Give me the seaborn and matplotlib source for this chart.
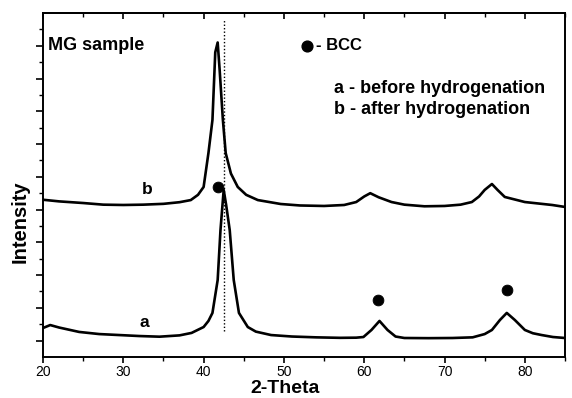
import matplotlib
matplotlib.use("Agg")
import matplotlib.pyplot as plt
from matplotlib.ticker import MultipleLocator, FixedLocator
import seaborn as sns
import pandas as pd

# ---- data ----
theta_a = [20, 20.9, 22, 24.5, 27, 29.5, 32, 34.5, 37, 38.5, 40.0, 40.6, 41.1, 41.75,
           42.1, 42.5, 42.8, 43.25, 43.75, 44.4, 45.5, 46.5, 48.4, 51, 54, 57, 59.0,
           59.9, 60.9, 61.9, 62.9, 63.9, 65, 68, 71, 73.5, 75.0, 75.9, 76.9, 77.75,
           78.75, 80.0, 81.0, 82.1, 83.5, 85]
int_a = [1.77, 1.95, 1.8, 1.53, 1.4, 1.34, 1.28, 1.24, 1.32, 1.47, 1.83, 2.2, 2.69, 4.7,
         7.75, 10.2, 9.3, 7.75, 4.7, 2.69, 1.83, 1.55, 1.34, 1.25, 1.2, 1.17, 1.18,
         1.22, 1.65, 2.2, 1.65, 1.25, 1.16, 1.15, 1.16, 1.2, 1.4, 1.65, 2.26, 2.69,
         2.26, 1.65, 1.45, 1.34, 1.22, 1.16]

theta_b = [20, 22, 25, 27.5, 30, 32.5, 35, 37, 38.4, 39.3, 40.0, 40.6, 41.1, 41.45,
           41.75, 42.0, 42.4, 42.75, 43.4, 44.25, 45.3, 46.75, 49.6, 52, 55, 57.5, 59.0,
           60.0, 60.75, 61.8, 63.4, 65, 67.5, 70, 72, 73.4, 74.3, 75.0, 75.9, 76.6,
           77.5, 80.0, 83.4, 85]
int_b = [9.6, 9.5, 9.4, 9.3, 9.28, 9.3, 9.35, 9.45, 9.58, 9.9, 10.38, 12.45, 14.47,
         18.6, 19.2, 17.5, 14.47, 12.45, 11.2, 10.38, 9.9, 9.58, 9.34, 9.25, 9.22,
         9.28, 9.46, 9.8, 10.0, 9.75, 9.46, 9.3, 9.2, 9.22, 9.3, 9.46, 9.8, 10.2,
         10.56, 10.2, 9.77, 9.46, 9.28, 9.16]

bcc_theta = [41.75, 61.75, 77.75]
bcc_int = [10.4, 3.48, 4.09]

ref_line_theta = 42.6
xtick_vals = [20, 30, 40, 50, 60, 70, 80]

# ---- figure ----
sns.set_theme(style="ticks")
plt.rcParams["font.family"] = ["Liberation Sans", "DejaVu Sans"]
plt.rcParams["text.color"] = "black"
plt.rcParams["xtick.color"] = "black"
plt.rcParams["ytick.color"] = "black"

fig = plt.figure(figsize=(5.72, 3.98), dpi=100)
ax = fig.add_axes([43/572, 41/398, (565-43)/572, (357-13)/398])

df_a = pd.DataFrame({"theta": theta_a, "I": int_a})
df_b = pd.DataFrame({"theta": theta_b, "I": int_b})
sns.lineplot(data=df_a, x="theta", y="I", ax=ax, color="black", lw=1.9,
             sort=False, estimator=None)
sns.lineplot(data=df_b, x="theta", y="I", ax=ax, color="black", lw=1.9,
             sort=False, estimator=None)

ax.plot([ref_line_theta, ref_line_theta], [1.6, 20.6], color="black",
        lw=1.0, linestyle=(0, (1, 1.5)))

sns.scatterplot(x=bcc_theta, y=bcc_int, ax=ax, color="black", s=60,
                edgecolor="black", zorder=5)
ax.scatter([52.9], [19.0], color="black", s=60, zorder=5)

ax.set_xlim(20, 85)
ax.set_ylim(0, 21)

ax.xaxis.set_major_locator(FixedLocator(xtick_vals))
ax.xaxis.set_minor_locator(MultipleLocator(5))
ax.yaxis.set_major_locator(FixedLocator(list(range(1, 20, 2))))
ax.yaxis.set_minor_locator(FixedLocator(list(range(2, 21, 2))))
ax.set_yticklabels([])
ax.tick_params(axis="x", which="major", direction="out", length=4, width=1.2,
               labelsize=10, pad=2, top=False)
ax.tick_params(axis="x", which="minor", direction="out", length=3, width=1.0, top=False)
ax.tick_params(axis="y", which="major", direction="out", length=5, width=1.2)
ax.tick_params(axis="y", which="minor", direction="out", length=3, width=1.0)
for spine in ax.spines.values():
    spine.set_linewidth(1.4)
    spine.set_color("black")
ax.set_xlabel("")
ax.set_ylabel("")

# top ticks pointing inward
sec = ax.secondary_xaxis("top")
sec.xaxis.set_major_locator(FixedLocator(xtick_vals))
sec.xaxis.set_minor_locator(MultipleLocator(5))
sec.tick_params(axis="x", which="major", direction="in", length=4, width=1.2,
                labeltop=False)
sec.tick_params(axis="x", which="minor", direction="in", length=3, width=1.0)
sec.spines["top"].set_linewidth(1.4)

fig.text(285/572, 1/398, "2-Theta", fontsize=14, fontweight="bold",
         ha="center", va="bottom")
fig.text(20/572, 176/398, "Intensity", fontsize=14.5, fontweight="bold",
         rotation=90, ha="center", va="center")

ax.text(20.6, 19.0, "MG sample", fontsize=13, fontweight="bold", va="center")
ax.text(54.0, 19.0, "- BCC", fontsize=12, fontweight="bold", va="center")
ax.text(56.2, 16.4, "a - before hydrogenation", fontsize=13, fontweight="bold", va="center")
ax.text(56.2, 15.1, "b - after hydrogenation", fontsize=13, fontweight="bold", va="center")
ax.text(33.0, 10.2, "b", fontsize=12.5, fontweight="bold", ha="center", va="center")
ax.text(32.6, 2.1, "a", fontsize=12.5, fontweight="bold", ha="center", va="center")

fig.savefig("out.png", dpi=100, facecolor="white")
